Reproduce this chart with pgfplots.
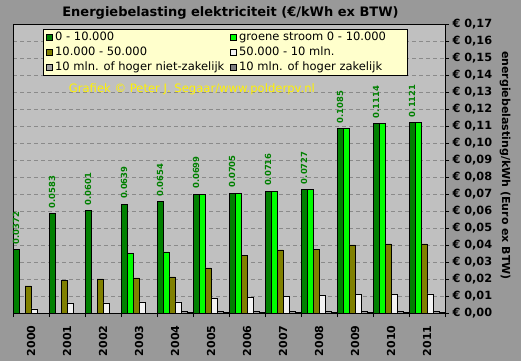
\documentclass[border=0pt]{standalone}
\usepackage{fontspec}
\setmainfont{DejaVu Sans}
\usepackage{pgfplots}
\pgfplotsset{compat=1.18}
\definecolor{bg}{HTML}{999999}
\definecolor{plotbg}{HTML}{C0C0C0}
\definecolor{dgreen}{HTML}{008000}
\definecolor{lgreen}{HTML}{00FF00}
\definecolor{oliveb}{HTML}{808000}
\definecolor{wbar}{HTML}{F2F2F2}
\definecolor{mgrey}{HTML}{A4A4A4}
\definecolor{dgrey}{HTML}{808080}
\definecolor{legbg}{HTML}{FFFFCC}
\definecolor{gridc}{HTML}{8A8A8A}
\begin{document}
\begin{tikzpicture}
\fill[bg] (0pt,0pt) rectangle (521pt,361pt);
\useasboundingbox (0pt,0pt) rectangle (521pt,361pt);
\begin{axis}[
  at={(13pt,48pt)}, anchor=south west,
  scale only axis, width=432pt, height=289pt,
  ybar=0pt, bar width=6pt,
  xmin=-0.5, xmax=11.5, ymin=0, ymax=0.17,
  axis background/.style={fill=plotbg},
  axis line style={black, line width=0.8pt},
  xtick={0,...,11},
  xticklabels={2000,2001,2002,2003,2004,2005,2006,2007,2008,2009,2010,2011},
  minor xtick={-0.5,0.5,...,11.5},
  major x tick style={draw=none},
  minor x tick style={black, line width=0.8pt},
  minor tick length=4pt,
  major tick length=4pt,
  tick align=outside,
  xtick pos=bottom,
  xticklabel style={rotate=90, anchor=east, font=\bfseries\fontsize{11}{12}\selectfont, xshift=-5pt},
  ytick={0,0.01,...,0.171},
  ytick pos=right, yticklabel pos=right,
  y tick style={black, line width=0.8pt},
  /pgf/number format/assume math mode=true,
  yticklabel={€ \pgfmathprintnumber[fixed,fixed zerofill,precision=2,use comma]{\tick}},
  yticklabel style={anchor=west, font=\bfseries\fontsize{11.3}{12}\selectfont},
  ymajorgrids, major grid style={gridc, dash pattern=on 4pt off 3pt, line width=0.6pt},
  legend columns=2,
  legend style={at={(axis description cs:0.0694,0.983)}, anchor=north west,
    fill=legbg, draw=black, line width=0.8pt, font=\fontsize{11.5}{13}\selectfont,
    cells={anchor=west}, row sep=2pt, inner xsep=3pt, inner ysep=1.5pt,
    nodes={inner xsep=2pt, inner ysep=1pt, text height=8.6pt, text depth=2.4pt},
    /tikz/every even column/.append style={column sep=4pt}},
  legend image code/.code={\draw[#1, draw=black, line width=0.8pt] (0pt,-3pt) rectangle (6pt,3pt);},
  clip=false,
]
\addplot[fill=dgreen, draw=black, line width=0.8pt,
  nodes near coords={\pgfmathprintnumber[fixed,fixed zerofill,precision=4]{\pgfplotspointmeta}},
  every node near coord/.append style={rotate=90, anchor=west, text=dgreen,
    font=\bfseries\fontsize{8.4}{10}\selectfont, inner xsep=5pt}]
  coordinates {(0,0.0372) (1,0.0583) (2,0.0601) (3,0.0639) (4,0.0654) (5,0.0699)
               (6,0.0705) (7,0.0716) (8,0.0727) (9,0.1085) (10,0.1114) (11,0.1121)};
\addlegendentry{0 - 10.000}
\addplot[fill=lgreen, draw=black, line width=0.8pt]
  coordinates {(3,0.0348) (4,0.0359) (5,0.0699)
               (6,0.0705) (7,0.0716) (8,0.0727) (9,0.1085) (10,0.1114) (11,0.1121)};
\addlegendentry{\makebox[163pt][l]{groene stroom 0 - 10.000}}
\addplot[fill=oliveb, draw=black, line width=0.8pt]
  coordinates {(0,0.0159) (1,0.0194) (2,0.0200) (3,0.0206) (4,0.0212) (5,0.0265)
               (6,0.0341) (7,0.0371) (8,0.0376) (9,0.0400) (10,0.0406) (11,0.0406)};
\addlegendentry{10.000 - 50.000}
\addplot[fill=wbar, draw=black, line width=0.8pt]
  coordinates {(0,0.0024) (1,0.0059) (2,0.0059) (3,0.0065) (4,0.0065) (5,0.0087)
               (6,0.0094) (7,0.0100) (8,0.0103) (9,0.0108) (10,0.0108) (11,0.0112)};
\addlegendentry{50.000 - 10 mln.}
\addplot[fill=mgrey, draw=black, line width=0.8pt]
  coordinates {(4,0.0010) (5,0.0010)
               (6,0.0010) (7,0.0010) (8,0.0010) (9,0.0010) (10,0.0010) (11,0.0010)};
\addlegendentry{10 mln. of hoger niet-zakelijk}
\addplot[fill=dgrey, draw=black, line width=0.8pt]
  coordinates {(4,0.0005) (5,0.0005)
               (6,0.0005) (7,0.0005) (8,0.0005) (9,0.0005) (10,0.0005) (11,0.0005)};
\addlegendentry{10 mln. of hoger zakelijk}
\node[text=yellow, font=\fontsize{11.6}{13}\selectfont] at (axis description cs:0.414,0.775)
  {Grafiek © Peter J. Segaar/www.polderpv.nl};
\end{axis}
\node[font=\bfseries\fontsize{13}{15}\selectfont] at (230.5pt,348.5pt)
  {Energiebelasting elektriciteit (€/kWh ex BTW)};
\node[rotate=-90, font=\bfseries\fontsize{11}{13}\selectfont] at (505pt,195.5pt)
  {energiebelasting/kWh (Euro ex BTW)};
\end{tikzpicture}
\end{document}
